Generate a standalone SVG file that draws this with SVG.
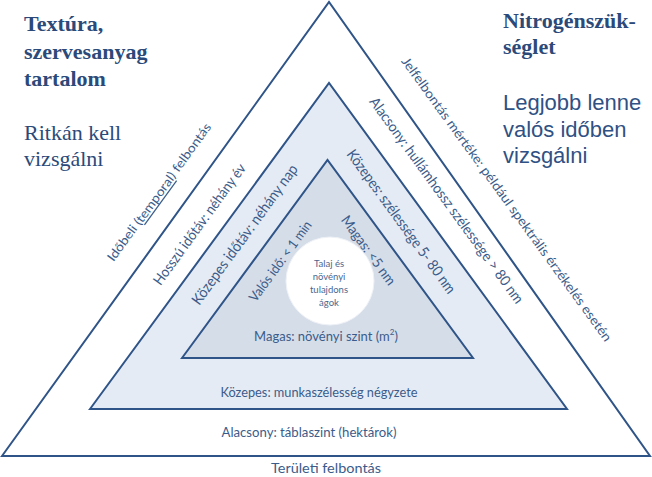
<svg xmlns="http://www.w3.org/2000/svg" width="652" height="477" viewBox="0 0 652 477">
<style>
.tri{stroke:#2f5488;stroke-width:2;stroke-linejoin:miter}
.title{font-family:"Liberation Serif",serif;font-weight:bold;font-size:22px;fill:#2b4a7a}
.serif{font-family:"Liberation Serif",serif;font-size:22px;fill:#2b4a7a}
.sans{font-family:"Liberation Sans",Arial,sans-serif;font-size:22px;fill:#2f5184}
.lbl{font-family:Lato,"Open Sans",sans-serif;fill:#3b5c8a;text-anchor:middle;dominant-baseline:central}
.circ{font-family:Lato,"Open Sans",sans-serif;font-size:9.5px;fill:#4a6790;text-anchor:middle;dominant-baseline:central}
</style>
<rect width="652" height="477" fill="#ffffff"/>
<g id="outer-triangle">
<polygon class="tri" points="2,456 329,2 650,456" fill="#ffffff"/>
</g>
<g id="middle-triangle">
<polygon class="tri" points="90,409 329,83 567,409" fill="#e5ebf4"/>
</g>
<g id="inner-triangle">
<polygon class="tri" points="182,358 327.5,160 473,358" fill="#d5dde9"/>
</g>
<g id="core-circle">
<circle cx="330" cy="281" r="44" fill="#ffffff" stroke="#eef1f6" stroke-width="1"/>
<text class="circ" x="329" y="263">Talaj és</text>
<text class="circ" x="329" y="276">növényi</text>
<text class="circ" x="329" y="289">tulajdons</text>
<text class="circ" x="329" y="302">ágok</text>
</g>
<g id="left-note">
<text class="title" x="24" y="31">Textúra,</text>
<text class="title" x="24" y="59">szervesanyag</text>
<text class="title" x="24" y="86">tartalom</text>
<text class="serif" x="24" y="140">Ritkán kell</text>
<text class="serif" x="24" y="166">vizsgálni</text>
</g>
<g id="right-note">
<text class="title" x="503" y="28">Nitrogénszük-</text>
<text class="title" x="503" y="54">séglet</text>
<text class="sans" x="503" y="110">Legjobb lenne</text>
<text class="sans" x="503" y="137">valós időben</text>
<text class="sans" x="503" y="163">vizsgálni</text>
</g>
<g id="temporal-labels">
<text class="lbl" font-size="12.5" textLength="167" lengthAdjust="spacingAndGlyphs" transform="translate(159,192) rotate(-54)">Időbeli (<tspan text-decoration="underline">temporal</tspan>) felbontás</text>
<text class="lbl" font-size="14.5" textLength="146" lengthAdjust="spacingAndGlyphs" transform="translate(199,224) rotate(-54)">Hosszú időtáv: néhány év</text>
<text class="lbl" font-size="15" textLength="169" lengthAdjust="spacingAndGlyphs" transform="translate(244,234) rotate(-54)">Közepes időtáv: néhány nap</text>
<text class="lbl" font-size="13.5" textLength="96" lengthAdjust="spacingAndGlyphs" transform="translate(280,261) rotate(-54)">Valós idő: &lt; 1 min</text>
</g>
<g id="spectral-labels">
<text class="lbl" font-size="13" textLength="348" lengthAdjust="spacingAndGlyphs" transform="translate(507,199) rotate(54)">Jelfelbontás mértéke: például spektrális érzékelés esetén</text>
<text class="lbl" font-size="14.5" textLength="251" lengthAdjust="spacingAndGlyphs" transform="translate(447,200) rotate(54)">Alacsony: hullámhossz szélessége &gt; 80 nm</text>
<text class="lbl" font-size="15" textLength="174" lengthAdjust="spacingAndGlyphs" transform="translate(402,221) rotate(54)">Közepes: szélessége 5- 80 nm</text>
<text class="lbl" font-size="14" textLength="82" lengthAdjust="spacingAndGlyphs" transform="translate(369,250) rotate(54)">Magas: &lt;5 nm</text>
</g>
<g id="spatial-labels">
<text class="lbl" font-size="13" x="326" y="336">Magas: növényi szint (m<tspan font-size="8" dy="-4">2</tspan><tspan dy="4">)</tspan></text>
<text class="lbl" font-size="14" textLength="197" lengthAdjust="spacingAndGlyphs" x="319" y="391">Közepes: munkaszélesség négyzete</text>
<text class="lbl" font-size="13.5" textLength="175" lengthAdjust="spacingAndGlyphs" x="309" y="432">Alacsony: táblaszint (hektárok)</text>
<text class="lbl" font-size="13" textLength="110" lengthAdjust="spacingAndGlyphs" x="326" y="468">Területi felbontás</text>
</g>
</svg>
